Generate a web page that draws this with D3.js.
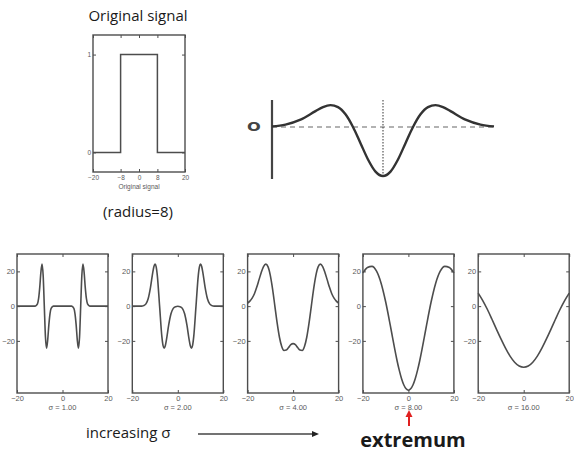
<!DOCTYPE html>
<html>
<head>
<meta charset="utf-8">
<script src="https://cdn.jsdelivr.net/npm/d3@7"></script>
<style>
    body { margin: 0; background: #fff; }
</style>
</head>
<body>
<script>
"use strict";

// original box signal (radius 8)
var signalX = [-20, -8, -8, 8, 8, 20];
var signalY = [0, 0, 1, 1, 0, 0];
var signalXTicks = [-20, -8, 0, 8, 20];
var signalYTicks = [0, 1];

// kernel sketch, x in units of sigma
var kernelX = [-3.7, -3.25, -2.75, -2.25, -2, -1.75, -1.5, -1.25, -1, -0.75, -0.5, -0.25, 0,
    0.25, 0.5, 0.75, 1, 1.25, 1.5, 1.75, 2, 2.25, 2.75, 3.25, 3.7];
var kernelY = [0.012, 0.049, 0.15, 0.323, 0.406, 0.446, 0.406, 0.258, 0, -0.33, -0.662, -0.909, -1,
    -0.909, -0.662, -0.33, 0, 0.258, 0.406, 0.446, 0.406, 0.323, 0.15, 0.049, 0.012];

// responses for increasing sigma
var sigmaLabels = ["σ = 1.00", "σ = 2.00", "σ = 4.00", "σ = 8.00", "σ = 16.00"];

var responseX1 = [-20, -12, -11, -10.5, -10, -9.5, -9, -8.5, -8, -7.5, -7, -6.5, -6, -5.5, -5, -4, 0,
    4, 5, 5.5, 6, 6.5, 7, 7.5, 8, 8.5, 9, 9.5, 10, 10.5, 11, 12, 20];
var responseY1 = [0, 0, 1.3, 4.4, 10.8, 19.4, 24.2, 17.6, 0, -17.6, -24.2, -19.4, -10.8, -4.4, -1.3, 0, 0,
    0, -1.3, -4.4, -10.8, -19.4, -24.2, -17.6, 0, 17.6, 24.2, 19.4, 10.8, 4.4, 1.3, 0, 0];

var responseX2 = [-20, -16, -15, -14, -13, -12, -11, -10.5, -10, -9.5, -9, -8, -7, -6.5, -6, -5.5, -5, -4, -3, -2, -1, 0,
    1, 2, 3, 4, 5, 5.5, 6, 6.5, 7, 8, 9, 9.5, 10, 10.5, 11, 12, 13, 14, 15, 16, 20];
var responseY2 = [0, 0, 0.3, 1.3, 4.4, 10.8, 19.4, 22.8, 24.2, 22.6, 17.6, 0, -17.6, -22.6, -24.2, -22.8, -19.4, -10.8, -4.4, -1.3, -0.3, -0.1,
    -0.3, -1.3, -4.4, -10.8, -19.4, -22.8, -24.2, -22.6, -17.6, 0, 17.6, 22.6, 24.2, 22.8, 19.4, 10.8, 4.4, 1.3, 0.3, 0, 0];

var responseX3 = [-20, -19, -18, -17, -16, -15, -14, -13, -12, -11, -10, -9, -8, -7, -6, -5, -4, -3, -2, -1, 0,
    1, 2, 3, 4, 5, 6, 7, 8, 9, 10, 11, 12, 13, 14, 15, 16, 17, 18, 19, 20];
var responseY3 = [1.8, 2.9, 4.6, 7.1, 10.8, 15.1, 19.4, 22.8, 24.2, 22.6, 17.6, 9.7, -0.1, -9.8, -17.9, -23.2, -25.5, -25.3, -23.8, -22.2, -21.6,
    -22.2, -23.8, -25.3, -25.5, -23.2, -17.9, -9.8, -0.1, 9.7, 17.6, 22.6, 24.2, 22.8, 19.4, 15.1, 10.8, 7.1, 4.6, 2.9, 1.8];

var responseX4 = [-20, -18, -16, -14, -12, -10, -8, -7, -6, -5, -4, -3, -2, -1, 0,
    1, 2, 3, 4, 5, 6, 7, 8, 10, 12, 14, 16, 18, 20];
var responseY4 = [19.1, 22.2, 22.9, 20.1, 13.2, 2.5, -10.8, -17.8, -24.8, -31.3, -37.0, -41.8, -45.4, -47.6, -48.4,
    -47.6, -45.4, -41.8, -37.0, -31.3, -24.8, -17.8, -10.8, 2.5, 13.2, 20.1, 22.9, 22.2, 19.1];

var responseX5 = [-20, -18, -16, -14, -12, -10, -8, -6, -4, -2, 0, 2, 4, 6, 8, 10, 12, 14, 16, 18, 20];
var responseY5 = [7.5, 3.2, -1.8, -7.4, -13.2, -18.9, -24.2, -28.8, -32.3, -34.5, -35.2,
    -34.5, -32.3, -28.8, -24.2, -18.9, -13.2, -7.4, -1.8, 3.2, 7.5];

var responseXTicks = [-20, 0, 20];
var responseYTicks = [-20, 0, 20];

var LineColor = "#4d4d4d",
    TextColor = "#1a1a1a",
    TickColor = "#5a5a5a",
    TickFont = "Liberation Sans, Arial, sans-serif",
    LabelFont = "Open Sans, sans-serif";

var svg = d3.select("body").append("svg")
    .attr("width", 574)
    .attr("height", 453);

svg.append("rect").attr("width", 574).attr("height", 453).attr("fill", "#fff");

drawSignal();
drawKernel();
drawResponses();
drawAnnotations();

function styleAxis(fontSize) {
    return function (g) {
        g.select(".domain").remove();
        g.selectAll(".tick line").attr("stroke", LineColor).attr("stroke-width", 1);
        g.selectAll(".tick text")
            .attr("fill", TickColor)
            .attr("font-family", TickFont)
            .attr("font-size", fontSize);
    };
}

function drawFrame(g, x, y, xTicks, yTicks, fontSize) {
    var left = x.range()[0], right = x.range()[1],
        bottom = y.range()[0], top = y.range()[1];
    var fmt = d3.format("d");

    g.append("g")
        .attr("transform", "translate(0," + bottom + ")")
        .call(d3.axisBottom(x).tickValues(xTicks).tickFormat(fmt).tickSize(-3).tickPadding(3))
        .call(styleAxis(fontSize));
    g.append("g")
        .attr("transform", "translate(0," + top + ")")
        .call(d3.axisTop(x).tickValues(xTicks).tickSize(-3).tickFormat(""))
        .call(styleAxis(fontSize));
    g.append("g")
        .attr("transform", "translate(" + left + ",0)")
        .call(d3.axisLeft(y).tickValues(yTicks).tickFormat(fmt).tickSize(-3).tickPadding(2))
        .call(styleAxis(fontSize));
    g.append("g")
        .attr("transform", "translate(" + right + ",0)")
        .call(d3.axisRight(y).tickValues(yTicks).tickSize(-3).tickFormat(""))
        .call(styleAxis(fontSize));

    g.append("rect")
        .attr("x", left)
        .attr("y", top)
        .attr("width", right - left)
        .attr("height", bottom - top)
        .attr("fill", "none")
        .attr("stroke", LineColor)
        .attr("stroke-width", 1.4);
}

function drawSignal() {
    var g = svg.append("g");
    var x = d3.scaleLinear().domain([-20, 20]).range([93, 185]);
    var y = d3.scaleLinear().domain([-0.2, 1.2]).range([172, 35]);

    drawFrame(g, x, y, signalXTicks, signalYTicks, 6.5);

    var line = d3.line()
        .x(function (d) { return x(d[0]); })
        .y(function (d) { return y(d[1]); });

    g.append("path")
        .datum(d3.zip(signalX, signalY))
        .attr("d", line)
        .attr("fill", "none")
        .attr("stroke", LineColor)
        .attr("stroke-width", 1.5);

    g.append("text")
        .attr("x", 139).attr("y", 188.5)
        .attr("text-anchor", "middle")
        .attr("font-family", TickFont)
        .attr("font-size", 6.5)
        .attr("fill", TickColor)
        .text("Original signal");

    g.append("text")
        .attr("x", 138).attr("y", 21)
        .attr("text-anchor", "middle")
        .attr("font-family", LabelFont)
        .attr("font-size", 15)
        .attr("fill", TextColor)
        .text("Original signal");

    g.append("text")
        .attr("x", 138).attr("y", 217)
        .attr("text-anchor", "middle")
        .attr("font-family", LabelFont)
        .attr("font-size", 15)
        .attr("fill", TextColor)
        .text("(radius=8)");
}

function drawKernel() {
    var g = svg.append("g");
    var x = d3.scaleLinear().domain([-3.7, 3.7]).range([272, 494]);
    var y = d3.scaleLinear().domain([-1.06, 0.55]).range([179, 100]);

    g.append("line")
        .attr("x1", x(-3.7)).attr("x2", x(3.7))
        .attr("y1", y(0)).attr("y2", y(0))
        .attr("stroke", "#666")
        .attr("stroke-width", 1.2)
        .attr("stroke-dasharray", "5,4");

    g.append("line")
        .attr("x1", x(0)).attr("x2", x(0))
        .attr("y1", y(0.55)).attr("y2", y(-1))
        .attr("stroke", "#555")
        .attr("stroke-width", 1.2)
        .attr("stroke-dasharray", "1.5,1.5");

    g.append("line")
        .attr("x1", x(-3.7)).attr("x2", x(-3.7))
        .attr("y1", y(0.55)).attr("y2", y(-1.06))
        .attr("stroke", "#444")
        .attr("stroke-width", 2.2);

    var line = d3.line()
        .curve(d3.curveMonotoneX)
        .x(function (d) { return x(d[0]); })
        .y(function (d) { return y(d[1]); });

    g.append("path")
        .datum(d3.zip(kernelX, kernelY))
        .attr("d", line)
        .attr("fill", "none")
        .attr("stroke", "#333")
        .attr("stroke-width", 2.4);

    g.append("text")
        .attr("transform", "translate(254," + (y(0) + 4.5) + ") scale(1.35,1)")
        .attr("text-anchor", "middle")
        .attr("font-family", "DejaVu Sans, sans-serif")
        .attr("font-weight", "bold")
        .attr("font-size", 12)
        .attr("fill", "#444")
        .text("O");
}

function drawResponses() {
    var responses = [
        {label: sigmaLabels[0], x: responseX1, y: responseY1},
        {label: sigmaLabels[1], x: responseX2, y: responseY2},
        {label: sigmaLabels[2], x: responseX3, y: responseY3},
        {label: sigmaLabels[3], x: responseX4, y: responseY4},
        {label: sigmaLabels[4], x: responseX5, y: responseY5}
    ];

    var panelWidth = 91, panelStep = 115.3, panelLeft = 17;
    var y = d3.scaleLinear().domain([-50, 30]).range([393, 254]);

    responses.forEach(function (r, i) {
        var left = panelLeft + i * panelStep;
        var x = d3.scaleLinear().domain([-20, 20]).range([left, left + panelWidth]);
        var g = svg.append("g");

        drawFrame(g, x, y, responseXTicks, responseYTicks, 7.5);

        var line = d3.line()
            .curve(d3.curveMonotoneX)
            .x(function (d) { return x(d[0]); })
            .y(function (d) { return y(d[1]); });

        g.append("path")
            .datum(d3.zip(r.x, r.y))
            .attr("d", line)
            .attr("fill", "none")
            .attr("stroke", LineColor)
            .attr("stroke-width", 1.6);

        g.append("text")
            .attr("x", x(0)).attr("y", 409.5)
            .attr("text-anchor", "middle")
            .attr("font-family", TickFont)
            .attr("font-size", 7.5)
            .attr("fill", TickColor)
            .text(r.label);
    });
}

function drawAnnotations() {
    svg.append("text")
        .attr("x", 86).attr("y", 438)
        .attr("font-family", LabelFont)
        .attr("font-size", 15)
        .attr("fill", TextColor)
        .text("increasing σ");

    svg.append("line")
        .attr("x1", 198).attr("x2", 313)
        .attr("y1", 434).attr("y2", 434)
        .attr("stroke", "#444")
        .attr("stroke-width", 1.5);
    svg.append("path")
        .attr("d", "M312,431L319,434L312,437Z")
        .attr("fill", "#222");

    svg.append("line")
        .attr("x1", 409).attr("x2", 409)
        .attr("y1", 426).attr("y2", 415)
        .attr("stroke", "#e02020")
        .attr("stroke-width", 2);
    svg.append("path")
        .attr("d", "M405.5,417L409,410L412.5,417Z")
        .attr("fill", "#e02020");

    svg.append("text")
        .attr("x", 413).attr("y", 447)
        .attr("text-anchor", "middle")
        .attr("font-family", LabelFont)
        .attr("font-weight", "bold")
        .attr("font-size", 20)
        .attr("fill", TextColor)
        .text("extremum");
}
</script>
</body>
</html>
